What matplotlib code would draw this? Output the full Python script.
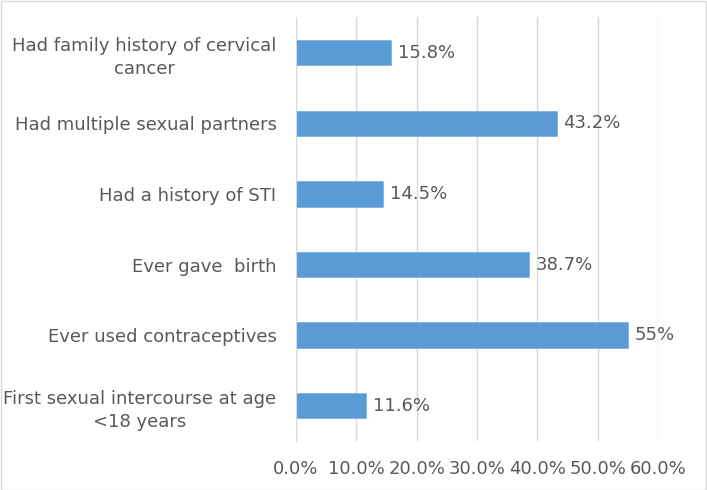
import matplotlib.pyplot as plt
from matplotlib.ticker import MultipleLocator, FuncFormatter
from matplotlib.patches import Rectangle

plt.rcParams['font.family'] = ['DejaVu Sans']

# bottom-to-top order as drawn
labels = ["First sexual intercourse at age\n<18 years",
          "Ever used contraceptives",
          "Ever gave  birth",
          "Had a history of STI",
          "Had multiple sexual partners",
          "Had family history of cervical\ncancer"]
values = [11.6, 55.0, 38.7, 14.5, 43.2, 15.8]
value_text = ["11.6%", "55%", "38.7%", "14.5%", "43.2%", "15.8%"]

txt = '#595959'
bar_col = '#5B9BD5'
fs = 13

fig = plt.figure(figsize=(7.07, 4.9), dpi=100)
ax = fig.add_axes([296/707, 1-441/490, 362/707, 423.5/490])

pos = range(len(labels))
ax.barh(pos, values, height=0.36, color=bar_col, edgecolor='#7FB2E0', linewidth=0.6, zorder=3)
for p, v, t in zip(pos, values, value_text):
    ax.text(v + 1.1, p, t, va='center', ha='left', fontsize=fs, color=txt)

ax.set_xlim(0, 60)
ax.set_ylim(-0.5, len(labels) - 0.5)
ax.set_yticks(list(pos))
ax.set_yticklabels(labels, fontsize=fs, color=txt, ha='right', multialignment='center',
                   linespacing=1.4)
ax.xaxis.set_major_locator(MultipleLocator(10))
ax.xaxis.set_major_formatter(FuncFormatter(lambda x, _: '%.1f%%' % x))
ax.tick_params(axis='x', labelsize=fs, colors=txt, length=0, pad=14)
ax.tick_params(axis='y', length=0, pad=14)
ax.grid(axis='x', color='#D9D9D9', linewidth=1, zorder=0)
for s in ['top', 'right', 'bottom']:
    ax.spines[s].set_visible(False)
ax.spines['left'].set_color('#D9D9D9')
ax.spines['left'].set_zorder(4)

fig.patches.append(Rectangle((0.5/707, 0.5/490), 705/707, 488/490, transform=fig.transFigure,
                             fill=False, edgecolor='#D9D9D9', linewidth=1))

fig.savefig('out.png', dpi=100)
